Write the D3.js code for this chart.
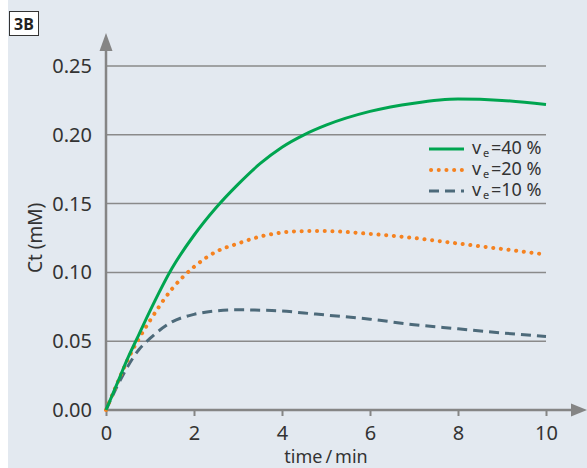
<!DOCTYPE html>
<html>
<head>
<meta charset="utf-8">
<script src="https://cdn.jsdelivr.net/npm/d3@7"></script>
<style>
  body { margin: 0; background: #fff; }
  text { font-family: "Noto Sans", "Open Sans", sans-serif; }
</style>
</head>
<body>
<div id="chart"></div>
<script>
// data
times   = [0, 0.25, 0.5, 0.75, 1, 1.5, 2, 2.5, 3, 3.5, 4, 4.5, 5, 6, 7, 8, 9, 10]
ve40    = [0, 0.019, 0.038, 0.055, 0.072, 0.103, 0.127, 0.147, 0.164, 0.179, 0.191, 0.200, 0.207, 0.217, 0.223, 0.226, 0.225, 0.222]
ve20    = [0, 0.019, 0.037, 0.052, 0.065, 0.088, 0.104, 0.115, 0.121, 0.126, 0.129, 0.130, 0.130, 0.128, 0.125, 0.121, 0.117, 0.113]
ve10    = [0, 0.017, 0.032, 0.044, 0.052, 0.064, 0.0695, 0.072, 0.0728, 0.0725, 0.072, 0.0705, 0.069, 0.066, 0.062, 0.059, 0.056, 0.0535]
xTicks  = [0, 2, 4, 6, 8, 10]
yTicks  = [0, 0.05, 0.10, 0.15, 0.20, 0.25]
seriesLabels = ["40 %", "20 %", "10 %"]

W = 587, H = 468
svg = d3.select("#chart").append("svg")
  .attr("width", W).attr("height", H)

// panel background
svg.append("rect").attr("x", 8).attr("y", 0).attr("width", W - 8).attr("height", H)
  .attr("fill", "#e3e9f0")

// "3B" badge
svg.append("rect").attr("x", 9.5).attr("y", 11.5).attr("width", 29).attr("height", 24)
  .attr("fill", "#fff").attr("stroke", "#333").attr("stroke-width", 1)
svg.append("text").attr("x", 24).attr("y", 29.5).attr("text-anchor", "middle")
  .style("font-size", "16px").style("font-weight", "bold").attr("fill", "#222").text("3B")

x = d3.scaleLinear().domain([0, 10]).range([106, 546])
y = d3.scaleLinear().domain([0, 0.25]).range([410, 66])
axisCol = "#858585"
tickFont = "20px"

// gridlines
svg.append("g").selectAll("line")
  .data(yTicks.slice(1))
  .join("line")
    .attr("x1", x(0)).attr("x2", x(10))
    .attr("y1", d => y(d)).attr("y2", d => y(d))
    .attr("stroke", "#8a8a8a").attr("stroke-width", 1.5)

// y tick labels
yAxis = svg.append("g")
  .attr("transform", `translate(${x(0) - 14}, 0)`)
  .call(d3.axisLeft(y).tickValues(yTicks).tickFormat(d3.format(".2f")).tickSize(0).tickPadding(0))
yAxis.select(".domain").remove()
yAxis.selectAll("text").style("font-size", tickFont).attr("fill", "#333")
  .style("font-family", "'Noto Sans', sans-serif")

// x axis
xAxis = svg.append("g")
  .attr("transform", `translate(0, ${y(0)})`)
  .call(d3.axisBottom(x).tickValues(xTicks).tickSize(6))
xAxis.select(".domain").remove()
xAxis.selectAll("line").attr("stroke", axisCol).attr("stroke-width", 2)
xAxis.selectAll("text").attr("y", 16).style("font-size", tickFont).attr("fill", "#333")
  .style("font-family", "'Noto Sans', sans-serif")

// axis lines with arrows
svg.append("line").attr("x1", x(0)).attr("x2", 574).attr("y1", y(0)).attr("y2", y(0))
  .attr("stroke", axisCol).attr("stroke-width", 2.5)
svg.append("path").attr("d", `M571,${y(0) - 6.5}L587,${y(0)}L571,${y(0) + 6.5}Z`).attr("fill", axisCol)
svg.append("line").attr("x1", x(0)).attr("x2", x(0)).attr("y1", y(0)).attr("y2", 48)
  .attr("stroke", axisCol).attr("stroke-width", 2.5)
svg.append("path").attr("d", `M${x(0) - 6.5},51L${x(0)},33L${x(0) + 6.5},51Z`).attr("fill", axisCol)

// axis titles
svg.append("text").attr("x", 326).attr("y", 463).attr("text-anchor", "middle")
  .style("font-size", "18px").attr("fill", "#333").text("time\u2009/\u2009min")
svg.append("text").attr("transform", "translate(42, 238) rotate(-90)").attr("text-anchor", "middle")
  .style("font-size", "19px").attr("fill", "#333").text("Ct (mM)")

// curves
series = [
  {vals: ve40, color: "#00a550", dash: null, cap: "butt", w: 3},
  {vals: ve20, color: "#f58220", dash: "0.1 7.6", cap: "round", w: 4},
  {vals: ve10, color: "#4d6a7a", dash: "10 6", cap: "butt", w: 3}
]
line = d3.line().x((d, i) => x(times[i])).y(d => y(d)).curve(d3.curveMonotoneX)

svg.append("g").selectAll("path")
  .data(series.slice().reverse())
  .join("path")
    .attr("d", d => line(d.vals))
    .attr("fill", "none")
    .attr("stroke", d => d.color)
    .attr("stroke-width", d => d.w)
    .attr("stroke-linecap", d => d.cap)
    .attr("stroke-dasharray", d => d.dash)

// legend
legend = svg.append("g").selectAll("g")
  .data(series)
  .join("g")
    .attr("transform", (d, i) => `translate(0, ${154 + i * 21})`)
legend.append("line")
  .attr("x1", d => d.cap == "round" ? 431 : 429).attr("x2", 464).attr("y1", -5).attr("y2", -5)
  .attr("stroke", d => d.color).attr("stroke-width", d => d.w)
  .attr("stroke-linecap", d => d.cap).attr("stroke-dasharray", d => d.dash)
legend.append("text").attr("x", 472).attr("y", 0)
  .style("font-size", "18px").attr("fill", "#333").text("v")
legend.append("text").attr("x", 483).attr("y", 3)
  .style("font-size", "11px").attr("fill", "#333").text("e")
legend.append("text").attr("x", 491).attr("y", 0)
  .style("font-size", "18px").attr("fill", "#333").text((d, i) => "=" + seriesLabels[i])
</script>
</body>
</html>
